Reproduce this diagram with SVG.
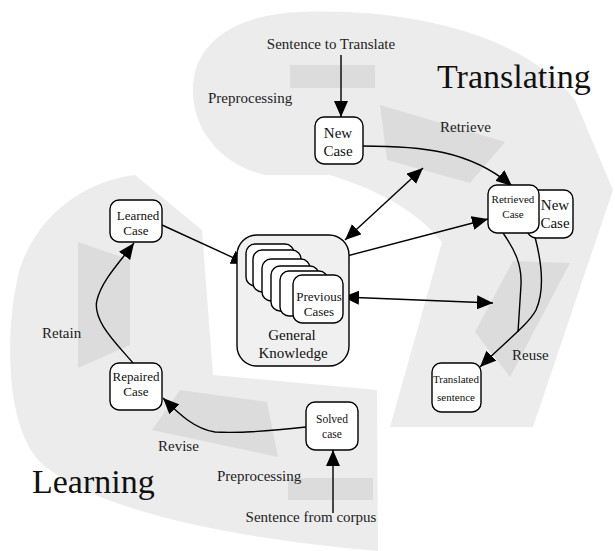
<svg xmlns="http://www.w3.org/2000/svg" width="615" height="551" viewBox="0 0 615 551">
<style>
.blob{fill:#ececec;stroke:none}
.shade{fill:#dcdcdc;stroke:none}
.node{fill:#fff;stroke:#000;stroke-width:1.4}
.gk{fill:#f0f0f0;stroke:#000;stroke-width:1.4}
.lbl{font-family:"Liberation Serif","Times New Roman",serif;font-size:15px;fill:#222}
.big{font-family:"Liberation Serif","Times New Roman",serif;font-size:34px;fill:#111}
.nt{font-family:"Liberation Serif","Times New Roman",serif;fill:#111;text-anchor:middle}
.c{fill:none;stroke:#000;stroke-width:1.4}
</style>
<defs>
<marker id="ah" markerUnits="userSpaceOnUse" markerWidth="16" markerHeight="14" refX="16" refY="7" orient="auto-start-reverse">
<path d="M0,0 L16,7 L0,14 Z" fill="#000"/>
</marker>
</defs>
<g id="background">
<path class="blob" d="M193,95 C190,40 240,14 300,12 C400,8 520,30 575,100 L613,190 L533,427 L390,427 L442,242 C420,215 385,192 330,175 L265,175 C222,165 195,132 193,95 Z"/>
<path class="blob" d="M135,175 L202,230 L213,375 L377,390 L378,551 C250,540 100,515 40,462 C5,425 4,330 20,268 C40,210 90,180 135,175 Z"/>
<rect class="shade" x="290" y="65" width="85" height="23"/>
<path class="shade" d="M380,105 L505,142 L470,183 L387,160 Z"/>
<path class="shade" d="M513,261 L570,263 L510,377 L475,332 Z"/>
<path class="shade" d="M78,242 L130,260 L130,345 L78,368 Z"/>
<path class="shade" d="M180,390 L267,402 L278,457 L152,430 Z"/>
<rect class="shade" x="288" y="478" width="85" height="22"/>
</g>
<g id="labels">
<text class="big" x="437" y="88">Translating</text>
<text class="big" x="32" y="493">Learning</text>
<text class="lbl" x="331" y="49" text-anchor="middle">Sentence to Translate</text>
<text class="lbl" x="208" y="103">Preprocessing</text>
<text class="lbl" x="440" y="132">Retrieve</text>
<text class="lbl" x="512" y="360">Reuse</text>
<text class="lbl" x="42" y="338">Retain</text>
<text class="lbl" x="158" y="451">Revise</text>
<text class="lbl" x="217" y="481">Preprocessing</text>
<text class="lbl" x="311" y="522" text-anchor="middle">Sentence from corpus</text>
</g>
<g id="connectors">
<path class="c" d="M341,55 L341,117" marker-end="url(#ah)"/>
<path class="c" d="M363,146 C420,146 470,150 512,186" marker-end="url(#ah)"/>
<path class="c" d="M345,240 L423,168" marker-start="url(#ah)" marker-end="url(#ah)"/>
<path class="c" d="M343,257 L488,219" marker-end="url(#ah)"/>
<path class="c" d="M343,297 L493,303" marker-start="url(#ah)" marker-end="url(#ah)"/>
<path class="c" d="M503,233 C515,250 522,265 521,285 L518,332"/>
<path class="c" d="M535,237 C541,260 545,290 536,310 C528,325 505,342 480,367" marker-end="url(#ah)"/>
<path class="c" d="M162,225 L247,264" marker-end="url(#ah)"/>
<path class="c" d="M133,363 C115,342 92,320 97,300 C102,280 120,262 134,243" marker-end="url(#ah)"/>
<path class="c" d="M306,427 C262,432 232,433 215,432 C195,429 180,415 163,398" marker-end="url(#ah)"/>
<path class="c" d="M333,513 L333,450" marker-end="url(#ah)"/>
</g>
<g id="general-knowledge">
<rect class="gk" x="237" y="235" width="112" height="131" rx="20"/>
<text class="nt" x="292" y="340" font-size="15">General</text>
<text class="nt" x="293" y="358" font-size="15">Knowledge</text>
</g>
<g id="previous-cases">
<rect class="node" x="246" y="244" width="48" height="42" rx="9"/>
<rect class="node" x="253" y="250" width="48" height="42" rx="9"/>
<rect class="node" x="262" y="259" width="48" height="42" rx="9"/>
<rect class="node" x="271" y="266" width="48" height="45" rx="9"/>
<rect class="node" x="280" y="271" width="48" height="45" rx="9"/>
<rect class="node" x="293" y="275" width="50" height="48" rx="9"/>
<text class="nt" x="319" y="301" font-size="13">Previous</text>
<text class="nt" x="319" y="316" font-size="13">Cases</text>
</g>
<g id="new-case-top">
<rect class="node" x="315" y="117" width="48" height="47" rx="9"/>
<text class="nt" x="338" y="138" font-size="15">New</text>
<text class="nt" x="338" y="156" font-size="15">Case</text>
</g>
<g id="new-case-right">
<rect class="node" x="527" y="190" width="46" height="48" rx="9"/>
<text class="nt" x="555" y="210" font-size="15">New</text>
<text class="nt" x="555" y="228" font-size="15">Case</text>
</g>
<g id="retrieved-case">
<rect class="node" x="488" y="185" width="51" height="48" rx="9"/>
<text class="nt" x="513" y="203" font-size="11">Retrieved</text>
<text class="nt" x="513" y="218" font-size="11">Case</text>
</g>
<g id="translated-sentence">
<rect class="node" x="432" y="363" width="49" height="49" rx="9"/>
<text class="nt" x="456" y="383" font-size="11">Translated</text>
<text class="nt" x="456" y="401" font-size="11">sentence</text>
</g>
<g id="learned-case">
<rect class="node" x="110" y="200" width="52" height="42" rx="9"/>
<text class="nt" x="138" y="220" font-size="13">Learned</text>
<text class="nt" x="136" y="235" font-size="13">Case</text>
</g>
<g id="repaired-case">
<rect class="node" x="110" y="363" width="52" height="47" rx="9"/>
<text class="nt" x="136" y="381" font-size="13">Repaired</text>
<text class="nt" x="136" y="396" font-size="13">Case</text>
</g>
<g id="solved-case">
<rect class="node" x="306" y="402" width="52" height="48" rx="9"/>
<text class="nt" x="332" y="423" font-size="11.5">Solved</text>
<text class="nt" x="332" y="438" font-size="11.5">case</text>
</g>
</svg>
